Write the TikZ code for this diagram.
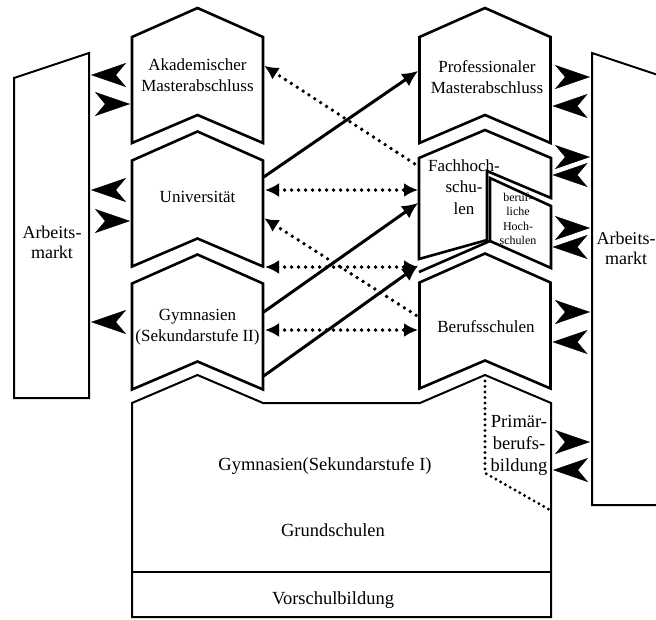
\documentclass[tikz,border=0pt]{standalone}
\usepackage{fontspec}
\setmainfont{Liberation Serif}
\usetikzlibrary{arrows.meta}

\tikzset{
  outline/.style={line width=2.6pt,line join=miter},
  thin outline/.style={line width=2pt,line join=miter},
  area/.style={draw=none,inner sep=0pt,outer sep=0pt,
    minimum width=131pt,minimum height=106pt},
  boxtext/.style={align=center,font=\fontsize{17}{20.5}\selectfont},
  basetext/.style={align=center,font=\fontsize{18.5}{22}\selectfont},
  smalltext/.style={align=center,font=\fontsize{12}{14.5}\selectfont},
  bigtip/.style={white,line width=0.4pt,shorten <=3pt,shorten >=2pt,
    -{Stealth[length=35pt,width=24pt,inset=10pt,color=black]}},
  flow/.style={line width=3pt,shorten <=1pt,shorten >=1.5pt,
    -{Latex[length=16pt,width=15pt]}},
  dots/.style={line width=3.8pt,line cap=round,dash pattern=on 0pt off 7pt,
    shorten <=2pt,shorten >=1.5pt},
  dottip/.tip={Latex[length=14pt,width=14pt]},
}

% chevron outline round an area node
\newcommand\chevron[1]{%
  \draw[outline] (#1.north west) -- ([yshift=29pt]#1.north) -- (#1.north east)
    -- (#1.south east) -- ([yshift=28pt]#1.south) -- (#1.south west) -- cycle;}

\begin{document}
\begin{tikzpicture}[x=1pt,y=-1pt]
  \useasboundingbox (0,0) rectangle (656,619);

  % areas
  \node[area] (akad) at (197.5,90) {};
  \node[area] (uni)  at (197.5,213.5) {};
  \node[area] (gym)  at (197.5,336.5) {};
  \node[area] (prof) at (485,90) {};
  \node[area,minimum height=109pt] (fh) at (485,212.5) {};
  \node[area] (bs)   at (485,335.5) {};
  \node[area,minimum width=419pt,minimum height=214pt] (base) at (341.5,510) {};
  \node[area,minimum width=75pt,minimum height=345pt] (aml) at (51.5,225.5) {};
  \node[area,minimum width=75pt,minimum height=452pt] (amr) at (629.5,279) {};

  % outlines
  \chevron{akad}
  \chevron{uni}
  \chevron{gym}
  \chevron{prof}
  \chevron{bs}
  \draw[outline] (419,259) -- (419,158) -- (485,130) -- (551,158) -- (551,198)
    -- (487,171) -- (487,240) -- cycle;
  \draw[outline] (419,272) -- (490,241) -- (490,178) -- (551,206)
    -- (551,268) -- (490,241);
  \draw[thin outline] (base.south west) -- (base.north west) -- (197.5,375)
    -- (263,403) -- (420,403) -- (485,375) -- (base.north east)
    -- (base.south east) -- cycle;
  \draw[thin outline] (base.west |- 0,572) -- (base.east |- 0,572);
  \draw[thin outline] (aml.south west) -- ([yshift=-25pt]aml.north west)
    -- (aml.north east) -- (aml.south east) -- cycle;
  \draw[thin outline] (amr.south west) -- (amr.north west)
    -- ([yshift=-25pt]amr.north east) -- (amr.south east) -- cycle;
  \draw[dots,line width=3.2pt,dash pattern=on 0pt off 5.5pt]
    (485,379) -- (485,473) -- (550,510);

  % texts
  \node[boxtext] (akad-t) at (197.5,75) {Akademischer\\Masterabschluss};
  \node[boxtext] (uni-t) at (197.5,197) {Universität};
  \node[boxtext] (gym-t) at (197.5,327) {Gymnasien\\(Sekundarstufe II)};
  \node[boxtext] (prof-t) at (487,77) {Professionaler\\Masterabschluss};
  \node[boxtext,font=\fontsize{17}{21.5}\selectfont] (fh-t) at (464,187)
    {Fachhoch-\\schu-\\len};
  \node[smalltext] (bh-t) at (518,219) {beruf-\\liche\\Hoch-\\schulen};
  \node[boxtext] (bs-t) at (486,327) {Berufsschulen};
  \node[basetext] (pb-t) at (519,445) {Primär-\\berufs-\\bildung};
  \node[basetext] (sek-t) at (325,466) {Gymnasien(Sekundarstufe I)};
  \node[basetext] (gs-t) at (333,530) {Grundschulen};
  \node[basetext] (vs-t) at (333,600) {Vorschulbildung};
  \node[basetext,font=\fontsize{18}{20}\selectfont] (aml-t) at (52,242)
    {Arbeits-\\markt};
  \node[basetext,font=\fontsize{18}{20}\selectfont] (amr-t) at (626,248)
    {Arbeits-\\markt};

  % to and from the labour market, left
  \draw[bigtip] (akad.west |- 0,75) -- (aml.east |- 0,75);
  \draw[bigtip] (aml.east |- 0,104) -- (akad.west |- 0,104);
  \draw[bigtip] (uni.west |- 0,190) -- (aml.east |- 0,190);
  \draw[bigtip] (aml.east |- 0,221) -- (uni.west |- 0,221);
  \draw[bigtip] (gym.west |- 0,322) -- (aml.east |- 0,322);

  % to and from the labour market, right
  \draw[bigtip] (prof.east |- 0,77) -- (amr.west |- 0,77);
  \draw[bigtip] (amr.west |- 0,106) -- (prof.east |- 0,106);
  \draw[bigtip] (fh.east |- 0,157) -- (amr.west |- 0,157);
  \draw[bigtip] (amr.west |- 0,175) -- (fh.east |- 0,175);
  \draw[bigtip] (fh.east |- 0,228) -- (amr.west |- 0,228);
  \draw[bigtip] (amr.west |- 0,247) -- (fh.east |- 0,247);
  \draw[bigtip] (bs.east |- 0,312) -- (amr.west |- 0,312);
  \draw[bigtip] (amr.west |- 0,342) -- (bs.east |- 0,342);
  \draw[bigtip] (base.east |- 0,442) -- (amr.west |- 0,442);
  \draw[bigtip] (amr.west |- 0,470) -- (base.east |- 0,470);

  % transitions
  \draw[flow] ([yshift=-17pt]uni.north east) -- ([yshift=-33pt]prof.north west);
  \draw[flow] ([yshift=-29pt]gym.north east) -- ([yshift=-44pt]fh.north west);
  \draw[flow] ([yshift=13pt]gym.south east) -- ([yshift=18pt]bs.north west);

  \draw[dots,-dottip,shorten <=6pt] ([yshift=-9pt]fh.north west)
    -- ([yshift=-28pt]akad.north east);
  \draw[dots,dottip-dottip] (uni.east |- 0,190) -- (fh.west |- 0,190);
  \draw[dots,-dottip,shorten <=4pt] ([yshift=-35pt]bs.north west)
    -- ([yshift=-57pt]uni.north east);
  \draw[dots,dottip-dottip] (uni.east |- 0,267) -- (bs.west |- 0,267);
  \draw[dots,dottip-dottip] (gym.east |- 0,330) -- (bs.west |- 0,330);
\end{tikzpicture}
\end{document}
